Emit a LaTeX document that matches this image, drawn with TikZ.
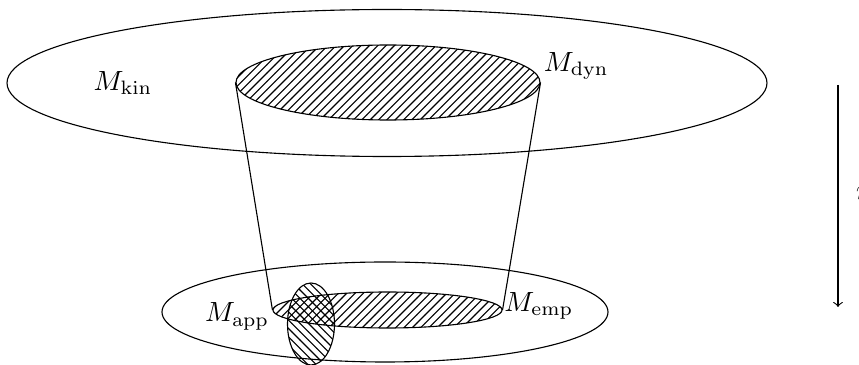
\documentclass[tikz,border=0pt]{standalone}
\usetikzlibrary{shapes.geometric, patterns, positioning}

\begin{document}
\begin{tikzpicture}[x=0.36pt, y=0.36pt, >=to,
    set/.style={ellipse, draw, inner sep=0pt},
    size/.style 2 args={minimum width=#1*0.36pt, minimum height=#2*0.36pt},
    hatchNE/.style={set, pattern=north east lines},
    hatchNW/.style={set, pattern=north west lines}]

    \useasboundingbox (0,0) rectangle (859,365);

    % --- Upper level: the kinematic models ---
    \node[set, size={760}{147}] (kin) at (387,282) {};
    \node[hatchNE, size={304}{75}] (dyn) at (388,282.5) {};

    % --- Lower level: the empirical models ---
    \node[set, size={446}{100}] (base) at (385,53) {};
    \node[hatchNE, size={229}{36}] (emp) at (387.5,55) {};
    % small vertical set, its overlap with emp comes out cross-hatched
    \node[hatchNW, size={47}{82}] (app) at (311,41) {};

    % --- Sides of the cone ---
    \draw (dyn.west) -- (emp.west);
    \draw (dyn.east) -- (emp.east);

    % --- Labels ---
    \node (lkin) at (123,282) {$M_{\mathrm{kin}}$};
    \node[anchor=south west, inner sep=1pt] (ldyn) at (dyn.east) {$M_{\mathrm{dyn}}$};
    \node[anchor=east, inner sep=1pt, yshift=-2.3pt] (lapp) at (emp.west) {$M_{\mathrm{app}}$};
    \node[anchor=west, inner sep=0.5pt, yshift=1.4pt] (lemp) at (emp.east) {$M_{\mathrm{emp}}$};

    % --- Map eta from top to bottom ---
    \coordinate (etaTop) at (838,280);
    \coordinate (etaBot) at (838,58);
    \draw[->] (etaTop) -- (etaBot) node[midway, right=3pt] (leta) {$\eta$};

\end{tikzpicture}
\end{document}
